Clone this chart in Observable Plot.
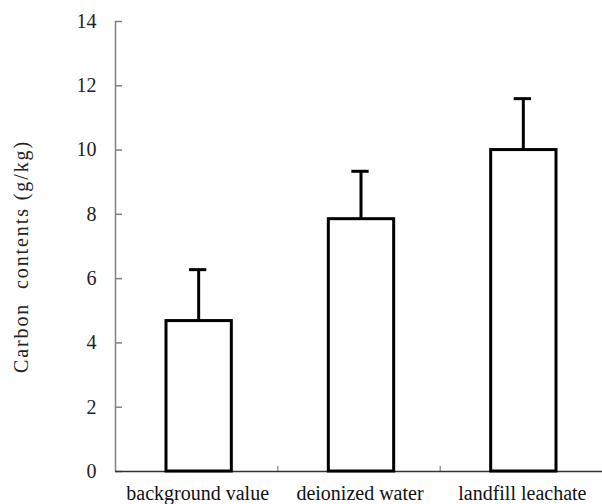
<!DOCTYPE html>
<html>
<head>
<meta charset="utf-8">
<script src="https://cdn.jsdelivr.net/npm/d3@7"></script>
<script src="https://cdn.jsdelivr.net/npm/@observablehq/plot@0.6"></script>
<style>
  html, body { margin: 0; padding: 0; background: #fff; }
  svg { display: block; }
  svg text { font-family: "Times New Roman", "Liberation Serif", Times, serif !important; }
</style>
</head>
<body>
<div id="chart"></div>
<script>
const categories = ["background value", "deionized water", "landfill leachate"];
const values = [4.68, 7.85, 10.0];
const errors = [1.60, 1.49, 1.60];
const yTicks = [0, 2, 4, 6, 8, 10, 12, 14];
const yLabel = "Carbon  contents (g/kg)";

const data = categories.map((c, i) => ({i, cat: c, value: values[i], top: values[i] + errors[i]}));

const chart = Plot.plot({
  width: 602,
  height: 504,
  marginLeft: 115,
  marginRight: 0,
  marginTop: 21,
  marginBottom: 33,
  style: {background: "#fff"},
  x: {type: "linear", domain: [0, categories.length], axis: null},
  y: {domain: [0, 14], axis: null},
  marks: [
    // y axis
    Plot.ruleX([0], {stroke: "#808080", strokeWidth: 1.5}),
    Plot.axisY({ticks: yTicks, tickSize: 0, tickPadding: 19, fontSize: 20, fill: "#222", label: null}),
    Plot.tickY(yTicks, {y: d => d, stroke: "#808080", strokeWidth: 1.5, insetRight: 602 - 115 - 7}),
    // x axis
    Plot.ruleY([0], {stroke: "#333", strokeWidth: 1.5}),
    Plot.ruleX(d3.range(1, categories.length), {x: d => d, stroke: "#666", strokeWidth: 1, insetTop: 504 - 21 - 33 - 5}),
    Plot.text(data, {x: d => d.i + 0.5, frameAnchor: "bottom", text: "cat", fontSize: 20, fill: "#111", dy: 28, lineAnchor: "bottom", dx: 1}),
    // error bars
    Plot.ruleX(data, {x: d => d.i + 0.5, y1: "value", y2: "top", stroke: "#000", strokeWidth: 3, dx: 2}),
    Plot.ruleY(data, {x1: "i", x2: d => d.i + 1, y: "top", stroke: "#000", strokeWidth: 3, insetLeft: 74, insetRight: 71}),
    // bars
    Plot.rectY(data, {x1: "i", x2: d => d.i + 1, y1: 0, y2: "value", fill: "#fff", stroke: "#000", strokeWidth: 3, insetLeft: 51, insetRight: 46}),
    // y label
    Plot.text([yLabel], {frameAnchor: "left", rotate: -90, textAnchor: "middle", dx: -94, dy: 10, fontSize: 20, fill: "#222"})
  ]
});
chart.querySelectorAll("text").forEach(t => {
  if (t.textContent === yLabel) {
    t.style.letterSpacing = "1.9px";
    t.style.whiteSpace = "pre";
  }
});
document.getElementById("chart").appendChild(chart);
</script>
</body>
</html>
